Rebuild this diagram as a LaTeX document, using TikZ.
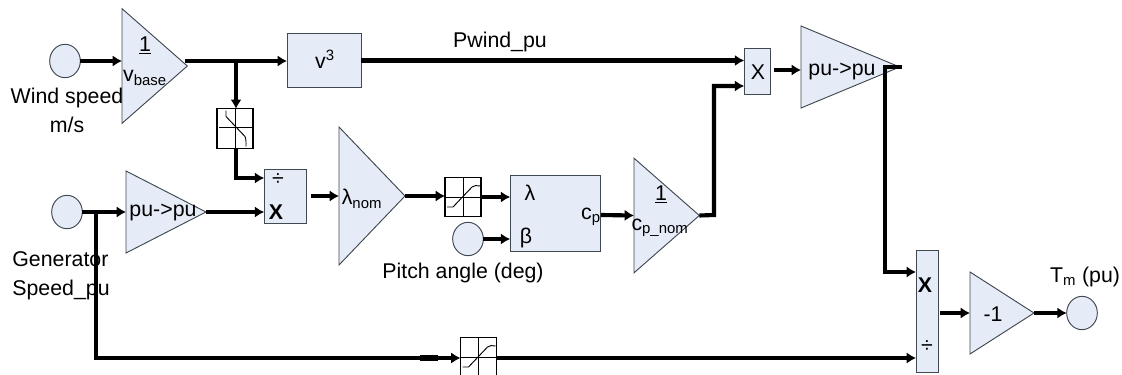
\documentclass[tikz,border=0pt]{standalone}
\usepackage{xcolor}
\usepackage{fontspec}
\setmainfont{Liberation Sans}
\usepackage{tikz}
\usetikzlibrary{arrows.meta,positioning,shapes.geometric,calc}
\definecolor{blockfill}{HTML}{E6ECF7}
\definecolor{blockline}{HTML}{404850}

\begin{document}
\begin{tikzpicture}[
  x=0.75pt, y=-0.75pt,
  every node/.style={font=\fontsize{16}{21.5}\selectfont, inner sep=0pt, outer sep=0pt},
  block/.style={draw=blockline, line width=0.7pt, fill=blockfill},
  gain/.style={block, isosceles triangle, isosceles triangle stretches, shape border rotate=0, anchor=lower side},
  port/.style={block, ellipse, minimum width=23pt, minimum height=25pt},
  sat/.style={draw=black, line width=0.8pt, fill=white, minimum width=27pt, minimum height=29.5pt},
  sig/.style={draw=black, line width=0.7pt},
  wire/.style={draw=black, line width=3.1pt},
  flow/.style={wire, -{Latex[length=7pt,width=8.5pt]}},
]
\useasboundingbox (0,0) rectangle (1122,375);

% blocks
\node[gain, minimum height=49pt, minimum width=86pt] (vbase) at (122,66) {};
\node[gain, minimum height=60pt, minimum width=61.5pt] (genpu) at (126,212) {};
\node[gain, minimum height=49.5pt, minimum width=103.5pt] (lamnom) at (339,196) {};
\node[gain, minimum height=49pt, minimum width=86pt] (cpnom) at (634,215.5) {};
\node[gain, minimum height=74pt, minimum width=61.5pt] (windpu) at (801,67) {};
\node[gain, minimum height=48pt, minimum width=61.5pt] (neg) at (970,313) {};
\node[block, minimum width=55.5pt, minimum height=41pt] (cube) at (324,60.5) {};
\node[block, minimum width=32pt, minimum height=41pt] (divide) at (285.5,196.5) {};
\node[block, minimum width=68pt, minimum height=57pt] (cpblock) at (555.5,213) {};
\node[block, minimum width=20pt, minimum height=34.5pt] (mult) at (757.5,71) {};
\node[block, minimum width=16.5pt, minimum height=92pt] (torque) at (927,311.5) {};
\node[port] (wind) at (65,61) {};
\node[port] (gen) at (67,212) {};
\node[port] (pitch) at (468,239) {};
\node[port] (tm) at (1082,313) {};
\node[sat] (dead) at (235,128.5) {};
\node[sat] (satlam) at (463,197) {};
\node[sat] (satgen) at (478.5,357) {};

% curves in the limiters
\draw[sig] (dead.north) -- (dead.south);
\draw[sig] ($(dead.west)+(2,-1)$) -- ($(dead.east)+(0,-1)$);
\draw[sig] ($(dead.center)+(-9,-18)$) -- ++(0,6) -- ++(19,20) to[out=-70,in=90] ++(1,10);
\foreach \s in {satlam,satgen} {
  \draw[sig] (\s.north) -- (\s.south);
  \draw[sig] (\s.west) -- (\s.east);
  \draw[sig] ($(\s.center)+(-16,10)$) -- ++(6,0) -- ++(19,-20) to[out=50,in=180] ++(8,-1);
}

% labels
\node[align=center] (windtxt) at (67,110.5) {Wind speed\\m/s};
\node[align=left] (gentxt) at (61,276) {Generator\\Speed\_pu};
\node (pitchtxt) at (463,273) {Pitch angle (deg)};
\node (pwind) at (500,42) {Pwind\_pu};
\node (tmtxt) at (1085,277) {T\textsubscript{m} (pu)};
\node (vone) at (145,45) {\underline{1}};
\node (vsub) at (145,78) {v\textsubscript{base}};
\node (cubetxt) at (325,59) {v\textsuperscript{3}};
\node (gentri) at (163,212) {pu->pu};
\node (divsign) at (278,180) {÷};
\node (divx) at (276,212) {\textbf{X}};
\node (lamtxt) at (362,199) {λ\textsubscript{nom}};
\node (lam) at (530,193) {λ};
\node (beta) at (526,238) {β};
\node (cptxt) at (591,217) {c\textsubscript{p}};
\node (cpone) at (661,194) {\underline{1}};
\node (cpsub) at (660,228) {c\textsubscript{p\_nom}};
\node (multx) at (758,72) {X};
\node (windtri) at (842,71) {pu->pu};
\node (torx) at (925,285) {\textbf{X}};
\node (torsign) at (927,347) {÷};
\node (negone) at (993,314) {-1};

% junctions
\coordinate (vout) at (185,61);
\coordinate (vtap) at (236,61);
\coordinate (gentap) at (96,212);
\coordinate (genlow) at (96,358);
\coordinate (cpout) at (714,215);
\coordinate (windout) at (902,67);
\coordinate (windturn) at (885,67);
\coordinate (stubin) at (420,358);
\coordinate (stubout) at (438,358);

% wires
\draw[flow] (wind.east) -- (wind.east -| vbase.lower side);
\draw[flow] (vout) -- (vout -| cube.west);
\draw[flow] (vtap) -- (vtap |- dead.north);
\draw[flow] (vtap |- dead.south) |- (divide.west |- 0,178);
\draw[flow] (gen.east) -- (gen.east -| genpu.lower side);
\draw[flow] (genpu.apex) -- (genpu.apex -| divide.west);
\draw[flow] (311,196) -- (lamnom.lower side);
\draw[flow] (lamnom.apex) -- (lamnom.apex -| satlam.west);
\draw[flow] (satlam.east) -- (cpblock.west |- satlam.east);
\draw[flow] (pitch.east) -- (pitch.east -| cpblock.west);
\draw[flow] (cpblock.east |- 0,215) -- (cpnom.lower side);
\draw[flow] (cube.east) -- (cube.east -| mult.west);
\draw[flow] (cpnom.apex) -- (cpout) |- (mult.west |- 0,86);
\draw[flow] (774,70) -- (windpu.lower side |- 0,70);
\draw[flow] (windout) -- (windturn) |- (torque.west |- 0,272);
\draw[flow] (940,313) -- (neg.lower side);
\draw[flow] (neg.apex) -- (tm.west);
\draw[flow, line width=2.5pt] (gentap) -- (genlow) -- (satgen.west |- genlow);
\draw[wire, line width=4.6pt] (stubin) -- (stubout);
\draw[flow, line width=2.5pt] (satgen.east |- genlow) -- (torque.west |- genlow);
\end{tikzpicture}
\end{document}
